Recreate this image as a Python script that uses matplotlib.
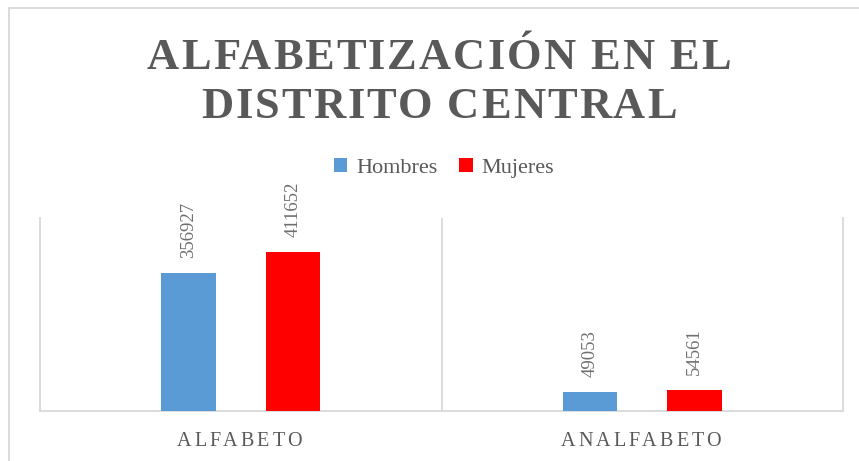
import matplotlib
matplotlib.use("Agg")
import matplotlib.pyplot as plt
from matplotlib.patches import Patch
from matplotlib.lines import Line2D
import numpy as np

# Data
categories = ["ALFABETO", "ANALFABETO"]
series_names = ["Hombres", "Mujeres"]
hombres = [356927, 49053]
mujeres = [411652, 54561]
title_lines = ["ALFABETIZACIÓN EN EL", "DISTRITO CENTRAL"]

blue = "#5B9BD5"
red = "#FF0000"
textColor = "#595959"
gridColor = "#D9D9D9"
serif = ["Liberation Serif", "DejaVu Serif"]

W, H = 859, 461
fig = plt.figure(figsize=(W / 100, H / 100), dpi=100)
fig.set_facecolor("white")
renderer = fig.canvas.get_renderer()


def px(x, y):
    # pixel (from top-left) to figure fraction
    return x / W, 1 - y / H


def text_width(s, **kw):
    t = fig.text(0, 0, s, **kw)
    w = t.get_window_extent(renderer).width
    t.remove()
    return w


def spaced_text(cx, y, s, spacing, **kw):
    # draw text with extra letter spacing, centred at cx (pixels)
    total = text_width(s, **kw) + spacing * (len(s) - 1)
    left = cx - total / 2
    for i, ch in enumerate(s):
        if ch == " ":
            continue
        pos = text_width(s[:i + 1], **kw) - text_width(ch, **kw)
        fx, fy = px(left + pos + i * spacing, y)
        fig.text(fx, fy, ch, ha="left", va="baseline", **kw)


# Outer chart border (cropped on right/bottom)
fig.add_artist(Line2D([9 / W, 9 / W], [0, 1 - 8 / H], transform=fig.transFigure, color=gridColor, lw=1.3))
fig.add_artist(Line2D([9 / W, 1], [1 - 8 / H, 1 - 8 / H], transform=fig.transFigure, color=gridColor, lw=1.3))

# Plot area
ax = fig.add_axes([40 / W, 1 - 411 / H, (843 - 40) / W, (411 - 218) / H])
x = np.arange(len(categories))
width = 0.135
off = 0.13
b1 = ax.bar(x - off, hombres, width, color=blue, label=series_names[0], zorder=3)
b2 = ax.bar(x + off, mujeres, width, color=red, label=series_names[1], zorder=3)
ax.set_xlim(-0.5, 1.5)
ax.set_ylim(0, 500000)
ax.axvline(0.5, color=gridColor, lw=1.3, zorder=1)
ax.set_xticks([])
ax.set_yticks([])
for side in ["left", "right", "bottom"]:
    ax.spines[side].set_color(gridColor)
    ax.spines[side].set_linewidth(1.3)
ax.spines["top"].set_visible(False)

# Data labels (rotated)
for bars, vals in [(b1, hombres), (b2, mujeres)]:
    for rect, v in zip(bars, vals):
        ax.annotate(str(v), (rect.get_x() + rect.get_width() / 2, v),
                    xytext=(0, 11), textcoords="offset points",
                    rotation=90, ha="center", va="bottom",
                    fontsize=13.5, color="#6F6F6F", family=serif)

# Title
spaced_text(439, 69, title_lines[0], 2.0, fontsize=32, fontweight="bold", color=textColor, family=serif)
spaced_text(439, 118, title_lines[1], 2.0, fontsize=32, fontweight="bold", color=textColor, family=serif)

# Category labels
for i, cat in enumerate(categories):
    cx = ax.transData.transform((i, 0))[0]
    spaced_text(cx - 1.5, 446, cat, 3.2, fontsize=14.5, color=textColor, family=serif)

# Legend
handles = [Patch(facecolor=blue), Patch(facecolor=red)]
leg = fig.legend(handles, series_names, loc="center", bbox_to_anchor=px(444, 168),
                 ncol=2, frameon=False, handlelength=0.6, handleheight=0.6,
                 handletextpad=0.4, columnspacing=1.0,
                 prop={"family": serif, "size": 16})
for t in leg.get_texts():
    t.set_color(textColor)

fig.savefig("out.png", dpi=100)
